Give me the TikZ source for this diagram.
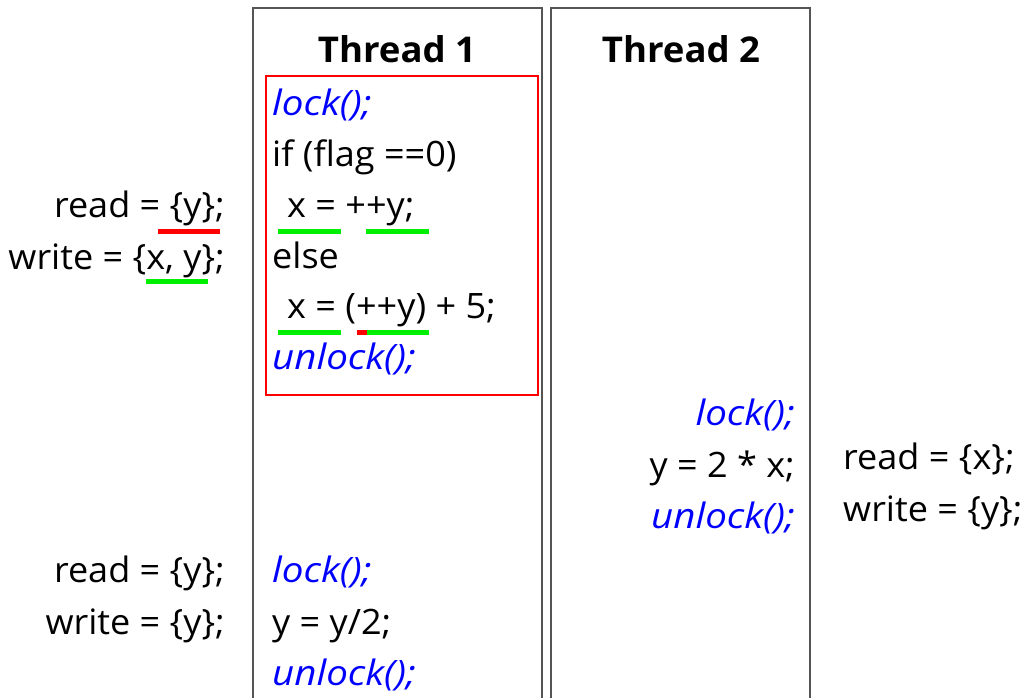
\documentclass[tikz,border=0pt]{standalone}
\usepackage{fontspec}
\setmainfont{Open Sans}[UprightFeatures={FakeStretch=1.03},ItalicFeatures={FakeStretch=1.1},BoldFeatures={FakeStretch=1.03}]
\begin{document}
\begin{tikzpicture}[x=1pt,y=-1pt,
  txt/.style={inner sep=0pt, font=\fontsize{35}{40}\selectfont},
  kw/.style={txt, text=codeblue, font=\fontsize{35}{40}\selectfont\itshape},
  ttl/.style={inner sep=0pt, font=\fontsize{35.5}{40}\selectfont\bfseries},
  col/.style={draw=colgray, line width=1.6pt},
  ulg/.style={fill=ulgreen},
  ulr/.style={fill=red}]
\definecolor{colgray}{HTML}{555555}
\definecolor{codeblue}{HTML}{0000FF}
\definecolor{ulgreen}{HTML}{00EE00}
\useasboundingbox (0,0) rectangle (1024,697);
% columns
\draw[col] (253,710) -- (253,8) -- (542,8) -- (542,710);
\draw[col] (551,710) -- (551,8) -- (810,8) -- (810,710);
% red box
\draw[red, line width=1.3pt] (266,76) rectangle (538,395);
% titles
\node[ttl, anchor=base] (t1) at (397,62) {Thread 1};
\node[ttl, anchor=base] (t2) at (681,62) {Thread 2};
% thread 1 code
\node[kw, anchor=base west] (l1) at (272,115) {lock();};
\node[txt, anchor=base west] (l2) at (272,166) {if (flag ==0)};
\node[txt, anchor=base west] (l3) at (272,217) {\hspace*{15pt}x = ++y;};
\node[txt, anchor=base west] (l4) at (272,268) {else};
\node[txt, anchor=base west] (l5) at (272,318) {\hspace*{15pt}x = (++y) + 5;};
\node[kw, anchor=base west] (l6) at (272,369) {unlock();};
\node[kw, anchor=base west] (m1) at (272,582) {lock();};
\node[txt, anchor=base west] (m2) at (272,634) {y = y/2;};
\node[kw, anchor=base west] (m3) at (272,685) {unlock();};
% thread 2 code
\node[kw, anchor=base east] (n1) at (795,425) {lock();};
\node[txt, anchor=base east] (n2) at (795,477) {y = 2 * x;};
\node[kw, anchor=base east] (n3) at (795,528) {unlock();};
% left labels
\node[txt, anchor=base east] (a1) at (225,217) {read = \{y\};};
\node[txt, anchor=base east] (a2) at (225,269) {write = \{x, y\};};
\node[txt, anchor=base east] (b1) at (225,582) {read = \{y\};};
\node[txt, anchor=base east] (b2) at (225,634) {write = \{y\};};
% right labels
\node[txt, anchor=base west] (c1) at (843,469) {read = \{x\};};
\node[txt, anchor=base west] (c2) at (843,521) {write = \{y\};};
% underlines
\fill[ulr] (158,229) rectangle (220,234);
\fill[ulg] (146,279) rectangle (208,284);
\fill[ulg] (278,229) rectangle (341,234);
\fill[ulg] (366,229) rectangle (429,234);
\fill[ulg] (278,330) rectangle (341,335);
\fill[ulr] (357,330) rectangle (367,335);
\fill[ulg] (367,330) rectangle (429,335);
\end{tikzpicture}
\end{document}
